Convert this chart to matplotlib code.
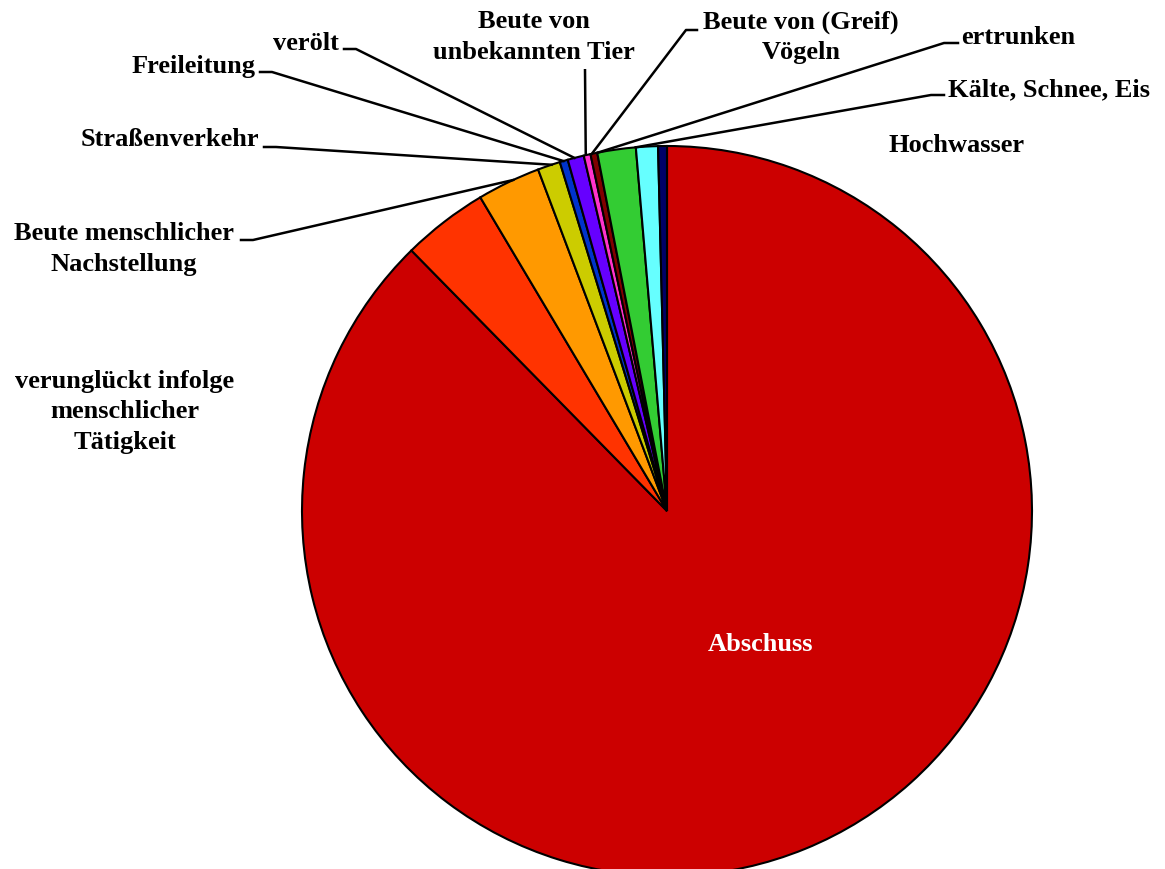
import numpy as np
import matplotlib
matplotlib.use("Agg")
import matplotlib.pyplot as plt

# ---------------- data ----------------
categories = [
    "Abschuss",
    "verunglückt infolge\nmenschlicher\nTätigkeit",
    "Beute menschlicher\nNachstellung",
    "Straßenverkehr",
    "Freileitung",
    "verölt",
    "Beute von\nunbekannten Tier",
    "Beute von (Greif)\nVögeln",
    "ertrunken",
    "Kälte, Schnee, Eis",
    "Hochwasser",
]
values = [87.6, 3.8, 2.8, 1.0, 0.36, 0.72, 0.30, 0.30, 1.70, 0.97, 0.39]
colors = ["#CC0000", "#FF3300", "#FF9900", "#CCCC00", "#0033CC", "#6600FF",
          "#FF33CC", "#800000", "#33CC33", "#66FFFF", "#000066"]

# ---------------- layout ----------------
W, H = 1165, 870
CX, CY, R = 667, 512, 365          # pixel coords, y from top

def Y(y):
    return H - y

FONT = dict(family=["Liberation Serif", "DejaVu Serif"], weight="bold", size=19)

# label layout: text (x, y, ha), leader stub (x0, x1, y) or None, attach fraction inside wedge
labels_layout = [
    dict(xy=(760, 645), ha="center", stub=None, frac=None, color="white"),
    dict(xy=(125, 412), ha="center", stub=None, frac=None),
    dict(xy=(124, 249), ha="center", stub=(241, 253, 241), frac=0.58, side="left"),
    dict(xy=(259, 139), ha="right", stub=(264, 276, 148), frac=0.62, side="left"),
    dict(xy=(256, 66), ha="right", stub=(260, 272, 73), frac=0.45, side="left"),
    dict(xy=(339, 43), ha="right", stub=(344, 356, 50), frac=0.42, side="left"),
    dict(xy=(534, 37), ha="center", stub=None, vline=(585, 70), frac=0.3),
    dict(xy=(801, 37), ha="center", stub=(686, 697, 31), frac=0.2, side="right"),
    dict(xy=(961, 38), ha="left", stub=(944, 958, 44), frac=0.02, side="right"),
    dict(xy=(948, 90), ha="left", stub=(931, 944, 96), frac=0.0, side="right"),
    dict(xy=(888, 145), ha="left", stub=None, frac=None),
]

fig = plt.figure(figsize=(W / 100, H / 100), dpi=100)
ax = fig.add_axes([0, 0, 1, 1])
wedges, _ = ax.pie(values, colors=colors, startangle=90, counterclock=False,
                   center=(CX, Y(CY)), radius=R,
                   wedgeprops=dict(edgecolor="black", linewidth=1.5))
ax.set_xlim(0, W)
ax.set_ylim(0, H)
ax.set_aspect("equal")
ax.axis("off")

# cumulative angles (clockwise from 12 o'clock)
vals = np.array(values, dtype=float)
cum = np.concatenate([[0], np.cumsum(vals)]) / vals.sum() * 360.0

for i, (lab, lay) in enumerate(zip(categories, labels_layout)):
    x, y = lay["xy"]
    ax.text(x, Y(y), lab, ha=lay["ha"], va="center", multialignment="center",
            color=lay.get("color", "black"), linespacing=1.4, **FONT)
    if lay["frac"] is None:
        continue
    th = np.deg2rad(cum[i] + lay["frac"] * (cum[i + 1] - cum[i]))
    px = CX + R * np.sin(th)
    py = CY - R * np.cos(th)
    if lay.get("vline") is not None:
        vx, vy = lay["vline"]
        ax.plot([px, vx], [Y(py), Y(vy)], color="black", lw=1.8, solid_capstyle="butt")
    else:
        x0, x1, sy = lay["stub"]
        if lay["side"] == "left":
            ax.plot([px, x1, x0], [Y(py), Y(sy), Y(sy)], color="black", lw=1.8)
        else:
            ax.plot([px, x0, x1], [Y(py), Y(sy), Y(sy)], color="black", lw=1.8)

fig.savefig("out.png", dpi=100)
